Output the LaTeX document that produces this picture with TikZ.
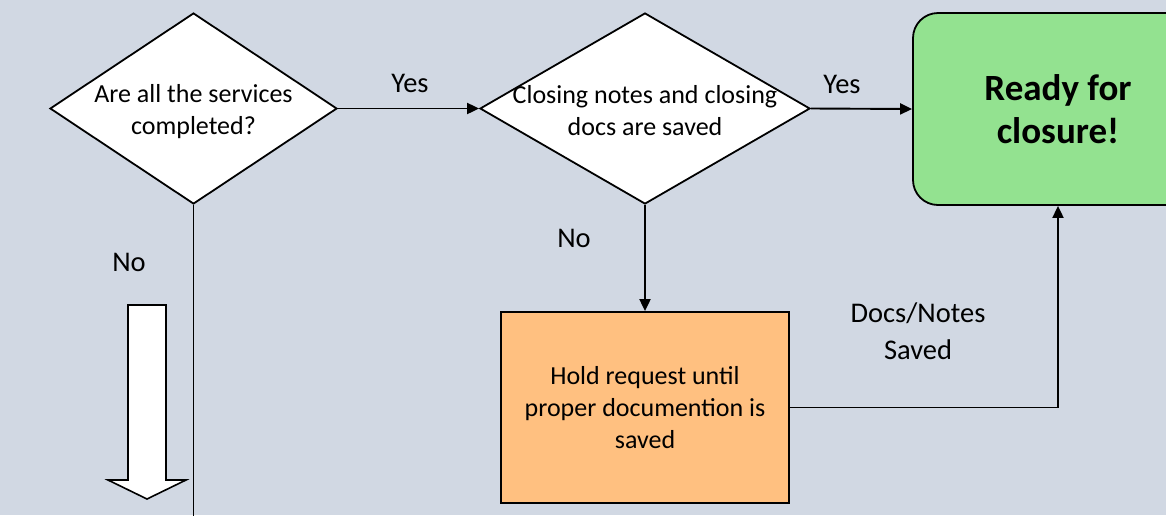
\documentclass[tikz,border=0pt]{standalone}
\usepackage{fontspec}
\setmainfont{Carlito}
\usetikzlibrary{shapes.geometric,arrows.meta}
\definecolor{bgc}{RGB}{209,216,227}
\definecolor{greenfill}{RGB}{147,226,144}
\definecolor{orangefill}{RGB}{255,192,128}
\tikzset{
  dia/.style={diamond, draw=black, fill=white, line width=1.8pt, inner sep=0pt, minimum width=#1, minimum height=191pt},
  boxtxt/.style={align=center, font=\fontsize{26}{32}\selectfont},
  lab/.style={align=center, inner sep=0pt, font=\fontsize{28.5}{37}\selectfont},
  conn/.style={line width=1.9pt, -{Triangle[length=12pt,width=11pt]}},
  plainconn/.style={line width=1.9pt},
}
\begin{document}
\begin{tikzpicture}[x=1pt,y=-1pt]
\useasboundingbox (0,0) rectangle (1166,515);
\clip (0,0) rectangle (1166,515);
\fill[bgc] (0,0) rectangle (1166,515);

\node[dia=287pt, label={[boxtxt, yshift=-3pt]center:{Are all the services\\completed?}}] (d1) at (193.5,108.5) {};
\node[dia=330pt, label={[boxtxt, yshift=-2pt]center:{Closing notes and closing\\docs are saved}}] (d2) at (645,108.5) {};
\node[draw=black, fill=greenfill, line width=1.8pt, rounded corners=25pt, minimum width=290pt, minimum height=192pt, align=center, font=\fontsize{37}{43}\selectfont\bfseries] (ready) at (1058,109) {Ready for\\closure!};
\node[draw=black, fill=orangefill, line width=1.8pt, minimum width=288pt, minimum height=191pt, boxtxt] (hold) at (645,407.5) {Hold request until\\proper documention is\\saved};

\coordinate (bottomend) at (193.5,516);

\draw[conn] (d1.east) -- (d2.west);
\draw[conn] (d2.east) -- (ready.west);
\draw[conn] (d2.south) -- (hold.north);
\draw[conn] (hold.east) -| (ready.south);
\draw[plainconn] (d1.south) -- (bottomend);

\node[lab] (yes1) at (410,83) {Yes};
\node[lab] (yes2) at (842,84) {Yes};
\node[lab] (no2) at (574,238) {No};
\node[lab] (no1) at (129,262) {No};
\node[lab] (saved) at (918,331) {Docs/Notes\\Saved};

\draw[line width=1.6pt, fill=white, line join=miter] (128,305) -- (166,305) -- (166,480) -- (186,480) -- (147,499) -- (108,480) -- (128,480) -- cycle;
\end{tikzpicture}
\end{document}
